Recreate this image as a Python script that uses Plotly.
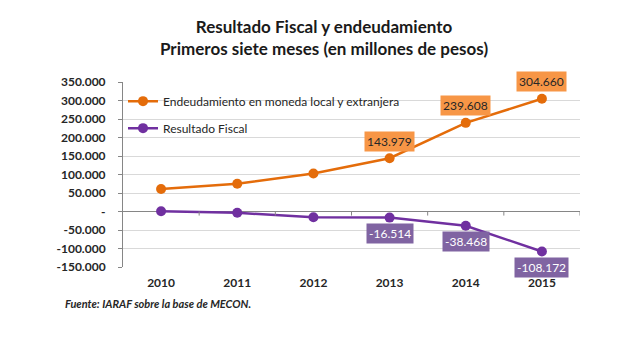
import plotly.graph_objects as go

years = ["2010", "2011", "2012", "2013", "2014", "2015"]
endeudamiento = [61000, 75000, 102500, 143979, 239608, 304660]
resultado = [800, -3500, -15500, -16514, -38468, -108172]
labeled_idx = [3, 4, 5]

y_tickvals = [350000, 300000, 250000, 200000, 150000, 100000, 50000, 0,
              -50000, -100000, -150000]
y_ticktext = ["350.000", "300.000", "250.000", "200.000", "150.000", "100.000",
              "50.000", "-", "-50.000", "-100.000", "-150.000"]

ORANGE_LINE = "#E46C0A"
ORANGE_BOX = "#F79646"
PURPLE_LINE = "#7030A0"
PURPLE_BOX = "#8064A2"
FONT = "Lato"


def fmt(v):
    s = f"{abs(v):,}".replace(",", ".")
    return ("-" if v < 0 else "") + s


fig = go.Figure()
fig.add_trace(go.Scatter(
    x=list(range(len(years))), y=endeudamiento, mode="lines+markers",
    name="Endeudamiento en moneda local y extranjera",
    line=dict(color=ORANGE_LINE, width=2.5),
    marker=dict(color=ORANGE_LINE, size=10), legendgroup="a"))
fig.add_trace(go.Scatter(
    x=list(range(len(years))), y=resultado, mode="lines+markers",
    name="Resultado Fiscal",
    line=dict(color=PURPLE_LINE, width=2.5),
    marker=dict(color=PURPLE_LINE, size=10), legendgroup="b"))

annotations = []
for i in labeled_idx:
    annotations.append(dict(
        x=i, y=endeudamiento[i], xref="x", yref="y", text=fmt(endeudamiento[i]),
        showarrow=False, yshift=17, bgcolor=ORANGE_BOX, borderpad=2,
        font=dict(family=FONT, size=12, color="#262626")))
    annotations.append(dict(
        x=i, y=resultado[i], xref="x", yref="y", text=fmt(resultado[i]),
        showarrow=False, yshift=-16, bgcolor=PURPLE_BOX, borderpad=2,
        font=dict(family=FONT, size=12, color="white")))

annotations.append(dict(
    x=-0.131, y=-0.195, xref="paper", yref="paper", xanchor="left",
    yanchor="middle", showarrow=False,
    text="<b><i>Fuente: IARAF sobre la base de MECON.</i></b>",
    font=dict(family=FONT, size=11, color="#262626")))

# small tick marks on the zero line between categories
shapes = []
for k in range(len(years)):
    shapes.append(dict(type="line", xref="x", yref="y", x0=k + 0.5, x1=k + 0.5,
                       y0=0, y1=-11000, line=dict(color="#868686", width=1)))

fig.update_layout(
    width=632, height=352,
    margin=dict(l=115, r=60, t=74, b=93),
    paper_bgcolor="white", plot_bgcolor="white",
    title=dict(text="<b>Resultado Fiscal y endeudamiento<br>Primeros siete meses (en millones de pesos)</b>",
               x=0.5, xanchor="center", y=0.928, yanchor="middle",
               font=dict(family=FONT, size=17, color="#1a1a1a")),
    legend=dict(x=0.0, y=0.975, xanchor="left", yanchor="top",
                bgcolor="rgba(0,0,0,0)", tracegroupgap=8,
                font=dict(family=FONT, size=12, color="#262626")),
    annotations=annotations,
    shapes=shapes,
    xaxis=dict(range=[-0.5, 5.5], tickvals=list(range(len(years))), ticktext=years,
               showgrid=False, zeroline=False, showline=False, ticks="",
               ticklabelstandoff=7,
               tickfont=dict(family=FONT, size=12, color="#262626", weight="bold")),
    yaxis=dict(range=[-150000, 350000], tickvals=y_tickvals, ticktext=y_ticktext,
               showgrid=True, gridcolor="#D9D9D9", gridwidth=1,
               zeroline=True, zerolinecolor="#868686", zerolinewidth=1,
               showline=True, linecolor="#868686", linewidth=1,
               ticks="outside", ticklen=4, tickcolor="#868686",
               ticklabelstandoff=10,
               tickfont=dict(family=FONT, size=12, color="#262626", weight="bold")),
)

fig.write_html("out.html")
